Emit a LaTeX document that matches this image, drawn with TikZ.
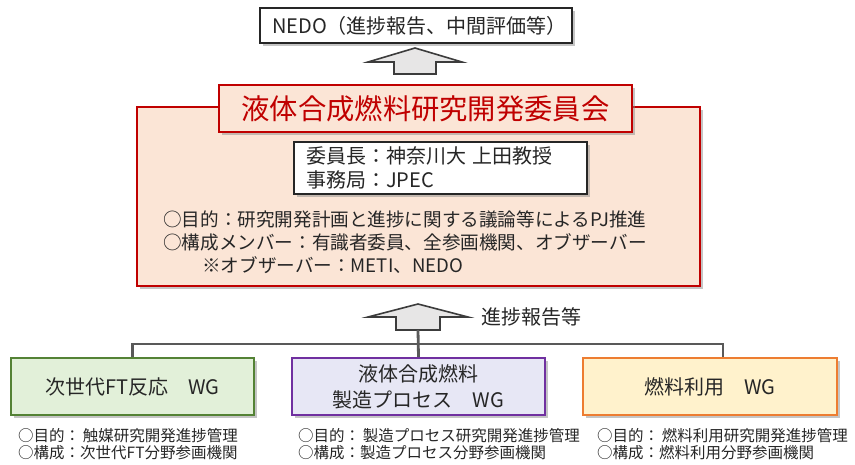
\documentclass[tikz,border=0pt]{standalone}
\usepackage{fontspec}
\setmainfont{Noto Sans CJK JP}
\usepackage{xcolor}
\usepackage{tikz}
\usetikzlibrary{positioning,shadows}
\definecolor{deepred}{HTML}{C00000}
\definecolor{softsalmon}{HTML}{FBE5D6}
\definecolor{leaf}{HTML}{548235}
\definecolor{softleaf}{HTML}{E2F0D9}
\definecolor{plum}{HTML}{7030A0}
\definecolor{softlilac}{HTML}{E7E7F5}
\definecolor{amber}{HTML}{ED7D31}
\definecolor{softcream}{HTML}{FFF2CC}
\definecolor{slate}{HTML}{595959}
\definecolor{ink}{HTML}{262626}
\definecolor{softgray}{HTML}{E7E6E6}
\tikzset{
    boxshadow/.style={drop shadow={shadow xshift=2.5pt,shadow yshift=-2.5pt,
      fill=black!45,opacity=.5}},
    plainbox/.style={draw=ink,fill=white,line width=1.2pt,boxshadow,
      inner xsep=12pt,inner ysep=3pt,align=left,text=ink},
    panel/.style={draw=deepred,fill=softsalmon,line width=2pt,boxshadow,
      minimum width=563pt,minimum height=179pt,inner sep=0pt},
    titlebox/.style={draw=deepred,fill=softsalmon,line width=2pt,boxshadow,
      minimum width=413pt,minimum height=47pt,inner sep=0pt,text=deepred,
      font=\fontsize{28.3}{32}\selectfont},
    wgbox/.style={line width=2pt,boxshadow,minimum width=243pt,
      minimum height=57pt,inner sep=0pt,align=center,text=ink,
      font=\fontsize{20}{26}\selectfont},
    wgnote/.style={anchor=west,inner sep=0pt,align=left,text=ink,
      font=\fontsize{15.5}{17}\selectfont},
    busline/.style={draw=slate,line width=2.8pt},
    blockarrow/.style={draw=ink!90,fill=softgray,line width=1.6pt,line join=miter}
}

\begin{document}
\begin{tikzpicture}[x=1pt,y=-1pt,font=\fontsize{20}{24}\selectfont]
  \useasboundingbox (0,0) rectangle (855,464);
  % top: NEDO
  \node[plainbox,text width=288pt,minimum height=35pt] (nedo) at (416,25.5)
    {NEDO（進捗報告、中間評価等）};
  \coordinate (up1) at (415,48);
  \draw[blockarrow] (up1) -- ++(47,14) -- ++(-26,0) -- ++(0,12) -- ++(-42,0)
    -- ++(0,-12) -- ++(-26,0) -- cycle;
  % committee
  \node[panel] (board) at (418.5,196.5) {};
  \node[titlebox] (boardname) at (425.5,108.5) {液体合成燃料研究開発委員会};
  \node[plainbox,text width=269pt,minimum height=52pt] (chair) at (440.5,168)
    {委員長：神奈川大 上田教授\\事務局：JPEC};
  \node[anchor=west,inner sep=0pt,align=left,text=ink,
    font=\fontsize{18.6}{23}\selectfont] (aim) at (163,242)
    {○目的：研究開発計画と進捗に関する議論等によるPJ推進\\
     ○構成メンバー：有識者委員、全参画機関、オブザーバー\\
     \hspace*{39pt}※オブザーバー：METI、NEDO};
  % report arrow
  \coordinate (up2tip) at (418,304);
  \draw[blockarrow] (up2tip) -- ++(50,13) -- ++(-28,0) -- ++(0,13) -- ++(-44,0)
    -- ++(0,-13) -- ++(-28,0) -- cycle;
  \coordinate (up2) at (418,330);
  \node[anchor=west,text=ink] (report) at (478,317) {進捗報告等};
  % working groups
  \node[wgbox,draw=leaf,fill=softleaf] (wga) at (132.5,386.5) {次世代FT反応　WG};
  \node[wgbox,draw=plum,fill=softlilac,minimum width=253pt] (wgb) at (418.5,386.5)
    {液体合成燃料\\製造プロセス　WG};
  \node[wgbox,draw=amber,fill=softcream,minimum width=254pt] (wgc) at (710,386.5)
    {燃料利用　WG};
  \draw[busline] (wga.north) -- ++(0,-13) -| ([xshift=13pt]wgc.north);
  \draw[busline] (up2) -- (wgb.north);
  \foreach \w/\x/\aim/\mem in {wga/18/触媒研究開発進捗管理/次世代FT分野参画機関,
      wgb/298/製造プロセス研究開発進捗管理/製造プロセス分野参画機関,
      wgc/597/燃料利用研究開発進捗管理/燃料利用分野参画機関}
    \node[wgnote] (note\w) at (\x,444.5) {○目的：\,\aim\\○構成：\mem};
\end{tikzpicture}
\end{document}
